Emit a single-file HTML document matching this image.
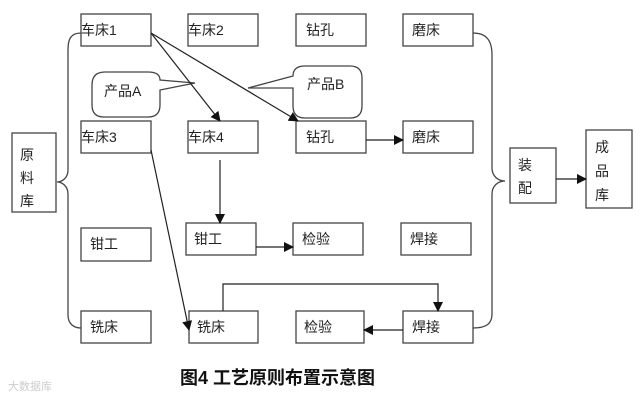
<!DOCTYPE html>
<html><head><meta charset="utf-8"><style>
html,body{margin:0;padding:0;background:#fff;}
svg{display:block;}
text{font-family:"Liberation Sans","Noto Sans CJK SC",sans-serif;font-size:14px;fill:#222;}
</style></head><body>
<svg width="640" height="400" viewBox="0 0 640 400" xmlns="http://www.w3.org/2000/svg">
<defs><marker id="a" markerWidth="10" markerHeight="10" refX="9" refY="5" orient="auto" markerUnits="userSpaceOnUse"><path d="M0,0 L10,5 L0,10 z" fill="#111"/></marker></defs>
<g fill="#fff" stroke="#444" stroke-width="1.3">
<rect x="81" y="14" width="70" height="32"/><rect x="188" y="14" width="70" height="32"/><rect x="296" y="14" width="70" height="32"/><rect x="403" y="14" width="70" height="32"/>
<rect x="81" y="121" width="70" height="32"/><rect x="188" y="121" width="70" height="32"/><rect x="296" y="121" width="70" height="32"/><rect x="403" y="121" width="70" height="32"/>
<rect x="81" y="228" width="70" height="33"/><rect x="186" y="223" width="70" height="32"/><rect x="293" y="223" width="70" height="32"/><rect x="401" y="223" width="70" height="32"/>
<rect x="81" y="311" width="70" height="32"/><rect x="189" y="311" width="69" height="32"/><rect x="296" y="311" width="68" height="32"/><rect x="403" y="311" width="70" height="32"/>
<rect x="12" y="133" width="44" height="79"/><rect x="510" y="148" width="46" height="55"/><rect x="586" y="130" width="46" height="78"/>
</g>
<g fill="none" stroke="#444" stroke-width="1.3">
<path d="M81,33 C70,33 68,40 68,50 L68,170 C68,178 62,182 57,182 C62,182 68,186 68,194 L68,315 C68,324 74,328 81,328"/>
<path d="M473,33 C486,33 492,40 492,55 L492,168 C492,176 498,181 505,181 C498,181 492,186 492,194 L492,314 C492,324 486,328 473,328"/>
<path d="M92,85 Q92,72 105,72 L148,72 Q160,72 160,80 L195,83 L160,90 L160,105 Q160,117 148,117 L104,117 Q92,117 92,105 Z" fill="#fff"/>
<path d="M305,66 L350,66 Q362,66 362,78 L362,106 Q362,118 350,118 L305,118 Q293,118 293,106 L293,88 L248,88 L293,76 Q293,66 305,66 Z" fill="#fff"/>
</g>
<g stroke="#222" stroke-width="1.2" fill="none" marker-end="url(#a)">
<line x1="151" y1="33" x2="220" y2="121"/>
<line x1="151" y1="33" x2="298" y2="121"/>
<line x1="151" y1="150" x2="189" y2="330"/>
<line x1="220" y1="160" x2="220" y2="223"/>
<line x1="366" y1="140" x2="403" y2="140"/>
<line x1="256" y1="247" x2="293" y2="247"/>
<path d="M223,311 L223,284 L438,284 L438,311"/>
<line x1="403" y1="330" x2="364" y2="330"/>
<line x1="556" y1="179" x2="586" y2="179"/>
</g>
<text x="81" y="35">车床1</text><text x="188" y="35">车床2</text><text x="306" y="35">钻孔</text><text x="412" y="35">磨床</text>
<text x="81" y="142">车床3</text><text x="188" y="142">车床4</text><text x="306" y="142">钻孔</text><text x="412" y="142">磨床</text>
<text x="90" y="249">钳工</text><text x="194" y="244">钳工</text><text x="302" y="244">检验</text><text x="410" y="244">焊接</text>
<text x="90" y="332">铣床</text><text x="197" y="332">铣床</text><text x="304" y="332">检验</text><text x="412" y="332">焊接</text>
<text x="104" y="96">产品A</text><text x="307" y="89">产品B</text>
<text x="20" y="160">原</text><text x="20" y="183">料</text><text x="20" y="206">库</text>
<text x="518" y="170">装</text><text x="518" y="193">配</text>
<text x="595" y="152">成</text><text x="595" y="176">品</text><text x="595" y="200">库</text>
<text x="180" y="384" style="font-size:18px;font-weight:bold;fill:#111">图4  工艺原则布置示意图</text>
<text x="8" y="390" style="font-size:11px;fill:#ccc">大数据库</text>
</svg>
</body></html>
